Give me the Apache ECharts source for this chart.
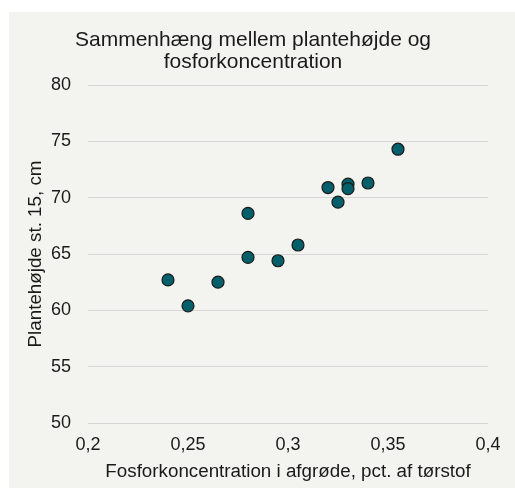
<!DOCTYPE html>
<html>
<head>
<meta charset="utf-8">
<script src="https://cdn.jsdelivr.net/npm/echarts@6/dist/echarts.min.js"></script>
<style>
  html, body { margin: 0; padding: 0; background: #ffffff; }
  #bg { position: absolute; left: 9px; top: 12px; width: 506px; height: 476px; background: #f3f3ef; }
  #chart { position: absolute; left: 0; top: 0; width: 515px; height: 488px; }
</style>
</head>
<body>
<div id="bg"></div>
<div id="chart"></div>
<script>
// fosforkoncentration (x) og plantehøjde (y)
var fosfor = [0.24, 0.25, 0.265, 0.28, 0.28, 0.295, 0.305, 0.32, 0.325, 0.33, 0.33, 0.34, 0.355];
var hoejde = [62.7, 60.4, 62.5, 68.6, 64.7, 64.4, 65.8, 70.9, 69.6, 71.2, 70.8, 71.3, 74.3];

var points = fosfor.map(function (x, i) { return [x, hoejde[i]]; });

var font = "'Liberation Sans', Arial, sans-serif";
var chart = echarts.init(document.getElementById("chart"));

chart.setOption({
  animation: false,
  title: {
    text: "Sammenhæng mellem plantehøjde og\nfosforkoncentration",
    left: 253,
    top: 29,
    padding: 0,
    textAlign: "center",
    textStyle: {
      fontFamily: font,
      fontSize: 21,
      fontWeight: "normal",
      color: "#1a1a1a",
      lineHeight: 22
    }
  },
  grid: {
    left: 88,
    right: 27,
    top: 85,
    bottom: 65
  },
  xAxis: {
    type: "value",
    min: 0.2,
    max: 0.4,
    interval: 0.05,
    name: "Fosforkoncentration i afgrøde, pct. af tørstof",
    nameLocation: "middle",
    nameGap: 39,
    nameTextStyle: { fontFamily: font, fontSize: 18.8, color: "#1a1a1a" },
    axisLine: { show: false },
    axisTick: { show: false },
    splitLine: { show: false },
    axisLabel: {
      fontFamily: font,
      fontSize: 18,
      color: "#1a1a1a",
      margin: 13,
      formatter: function (v) { return String(Math.round(v * 100) / 100).replace(".", ","); }
    }
  },
  yAxis: {
    type: "value",
    min: 50,
    max: 80,
    interval: 5,
    name: "Plantehøjde st. 15, cm",
    nameLocation: "middle",
    nameGap: 43,
    nameMoveOverlap: false,
    nameTextStyle: { fontFamily: font, fontSize: 18.8, color: "#1a1a1a" },
    axisLine: { show: false },
    axisTick: { show: false },
    splitLine: { lineStyle: { color: "#d6d6d6", width: 1 } },
    axisLabel: {
      fontFamily: font,
      fontSize: 18,
      color: "#1a1a1a",
      margin: 17
    }
  },
  series: [
    {
      type: "scatter",
      data: points,
      symbolSize: 12,
      itemStyle: {
        color: "#03606b",
        borderColor: "#1a1a1a",
        borderWidth: 1.2,
        opacity: 1
      }
    }
  ]
});
</script>
</body>
</html>
